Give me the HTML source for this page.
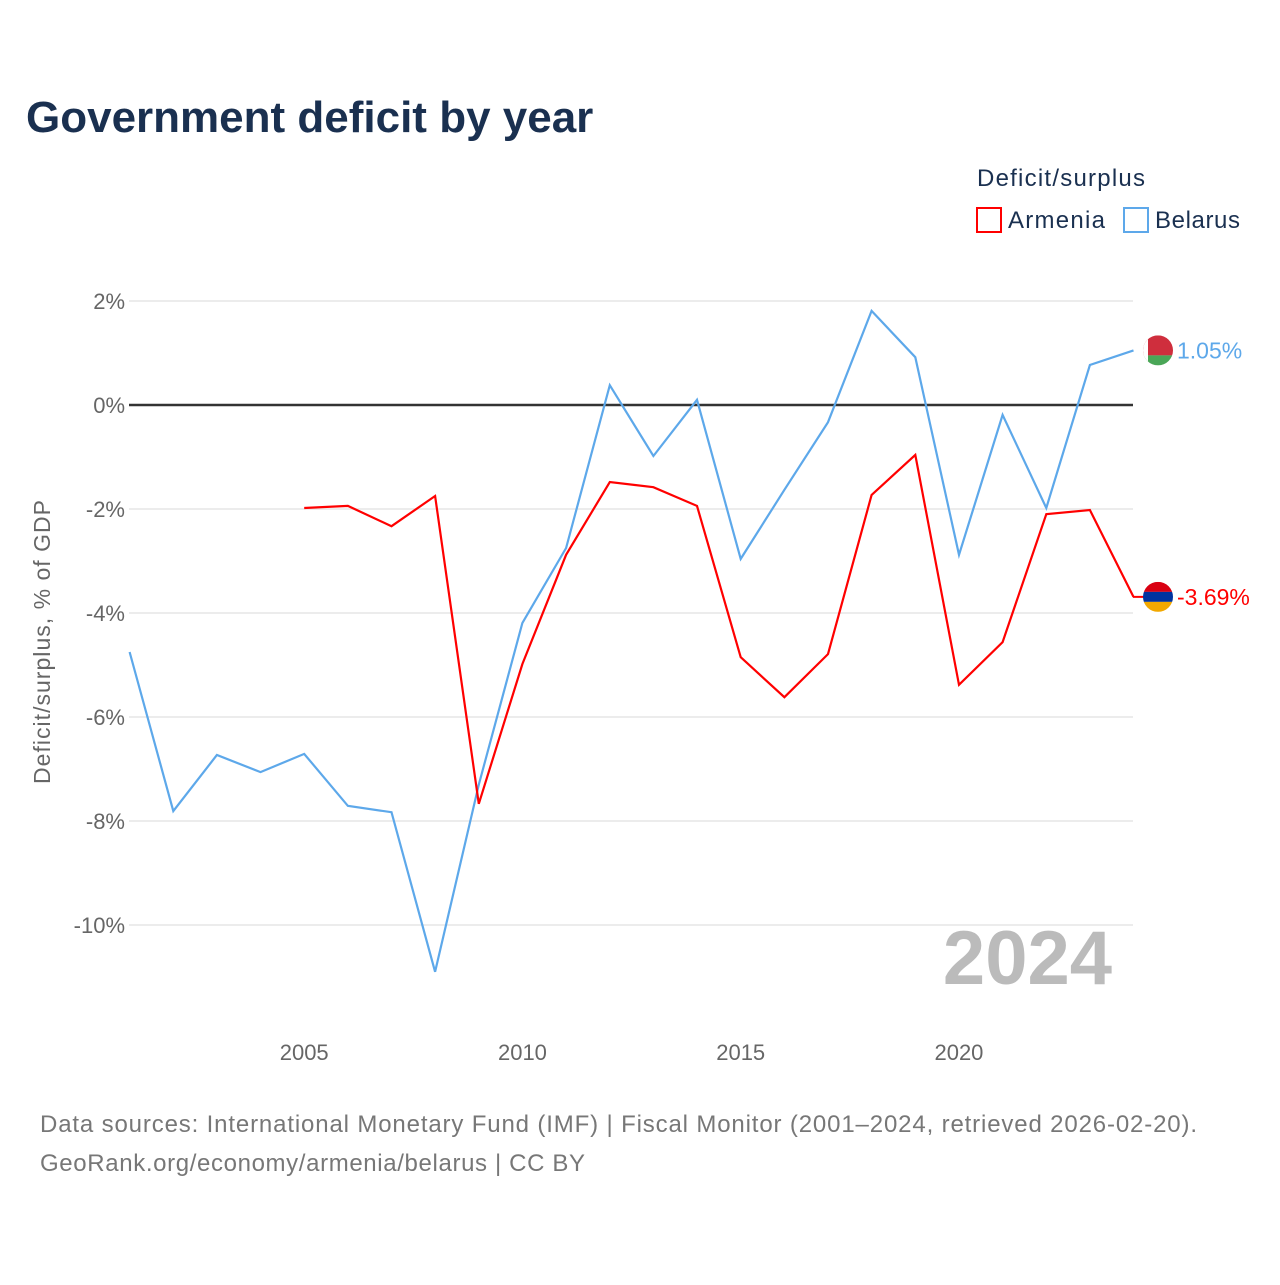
<!DOCTYPE html>
<html><head><meta charset="utf-8"><style>
body{margin:0;background:#fff;font-family:"Liberation Sans",sans-serif}
</style></head><body>
<svg width="1280" height="1280" xmlns="http://www.w3.org/2000/svg" id="svg">
<rect width="1280" height="1280" fill="#fff"/>
<text x="26" y="132" font-size="44" font-weight="bold" fill="#1a3050">Government deficit by year</text>
<text x="977" y="186" font-size="24" fill="#1a3050" textLength="168">Deficit/surplus</text>
<g><rect x="977" y="208" width="24" height="24" fill="none" stroke="#f00" stroke-width="2"/><text x="1008" y="228" font-size="24" fill="#1a3050" textLength="97">Armenia</text></g>
<g><rect x="1124" y="208" width="24" height="24" fill="none" stroke="#5da8ea" stroke-width="2"/><text x="1155" y="228" font-size="24" fill="#1a3050" textLength="85">Belarus</text></g>
<text transform="translate(50,642) rotate(-90)" text-anchor="middle" font-size="23" fill="#666" textLength="284">Deficit/surplus, % of GDP</text>
<g id="grid"></g><g id="series"></g>
<text x="1112" y="984" text-anchor="end" font-size="76" font-weight="bold" fill="#bbb">2024</text>
<text x="40" y="1132" font-size="24" fill="#777" textLength="1157">Data sources: International Monetary Fund (IMF) | Fiscal Monitor (2001–2024, retrieved 2026-02-20).</text>
<text x="40" y="1171" font-size="24" fill="#777" textLength="545">GeoRank.org/economy/armenia/belarus | CC BY</text>
</svg>
<script>
const years=[2001,2002,2003,2004,2005,2006,2007,2008,2009,2010,2011,2012,2013,2014,2015,2016,2017,2018,2019,2020,2021,2022,2023,2024];
const belarus=[-4.75,-7.81,-6.73,-7.06,-6.71,-7.71,-7.83,-10.9,-7.3,-4.19,-2.75,0.38,-0.98,0.1,-2.96,-1.63,-0.33,1.81,0.92,-2.88,-0.19,-1.98,0.77,1.05];
const armenia=[null,null,null,null,-1.98,-1.94,-2.33,-1.75,-7.67,-4.98,-2.88,-1.48,-1.58,-1.94,-4.85,-5.62,-4.79,-1.73,-0.96,-5.38,-4.56,-2.1,-2.02,-3.69];
const yTicks=[2,0,-2,-4,-6,-8,-10];
const xTicks=[2005,2010,2015,2020];
const X=y=>129.6+(y-2001)*43.65, Y=v=>405-v*52;
const NS='http://www.w3.org/2000/svg';
function mk(t,a,p){const e=document.createElementNS(NS,t);for(const k in a)e.setAttribute(k,a[k]);p.appendChild(e);return e;}
const g=document.getElementById('grid'),s=document.getElementById('series');
yTicks.forEach(v=>{
 const l=mk('line',{x1:129,x2:1133,y1:Y(v),y2:Y(v),stroke:v===0?'#333':'#e6e6e6','stroke-width':v===0?2.5:1.5},g);
 
 
 const t=mk('text',{x:125,y:Y(v)+8,'text-anchor':'end','font-size':22,fill:'#666'},g);
 t.textContent=v+'%';
 
 
});
xTicks.forEach(v=>{
 const t=mk('text',{x:X(v),y:1060,'text-anchor':'middle','font-size':22,fill:'#666'},g);
 t.textContent=v;
 
 
});
function line(vals,col,name){
 let d='';vals.forEach((v,i)=>{if(v===null)return;d+=(d?'L':'M')+X(years[i]).toFixed(1)+','+Y(v).toFixed(1);});
 const p=mk('path',{d:d,fill:'none',stroke:col,'stroke-width':2.2},s);
 
 
 const last=vals[vals.length-1],yy=Y(last);
 const t=mk('text',{x:1177,y:yy+8,'font-size':23,fill:col},s);
 t.textContent=last.toFixed(2)+'%';
 
 
 return yy;
}
const yb=line(belarus,'#5da8ea','belarus');
const ya=line(armenia,'#f00','armenia');
mk('line',{x1:1133,x2:1144,y1:ya,y2:ya,stroke:'#f00','stroke-width':2},s);
const fb=mk('g',{},s);
const cb=mk('clipPath',{id:'cb'},fb);mk('circle',{cx:1158,cy:yb,r:15},cb);
const gb=mk('g',{'clip-path':'url(#cb)'},fb);
mk('rect',{x:1143,y:yb-15,width:30,height:20,fill:'#cf2e3d'},gb);
mk('rect',{x:1143,y:yb+5,width:30,height:10,fill:'#4aa657'},gb);
mk('rect',{x:1143,y:yb-15,width:5,height:30,fill:'#fff'},gb);
const fa=mk('g',{},s);
const ca=mk('clipPath',{id:'ca'},fa);mk('circle',{cx:1158,cy:ya,r:15},ca);
const ga=mk('g',{'clip-path':'url(#ca)'},fa);
mk('rect',{x:1143,y:ya-15,width:30,height:10,fill:'#d90012'},ga);
mk('rect',{x:1143,y:ya-5,width:30,height:10,fill:'#0033a0'},ga);
mk('rect',{x:1143,y:ya+5,width:30,height:10,fill:'#f2a800'},ga);
</script>
</body></html>
